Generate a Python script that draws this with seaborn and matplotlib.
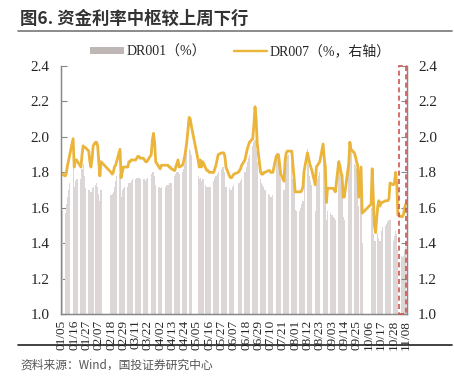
import pandas as pd
import matplotlib
matplotlib.use("Agg")
import matplotlib.pyplot as plt
import seaborn as sns
from matplotlib.lines import Line2D
from matplotlib.patches import Patch, Rectangle

# ------------------------
# Config
# ------------------------
START = "2024-01-05"
END = "2024-11-08"
# weekday holidays (interbank closed) and weekend make-up trading days
HOLIDAYS = ["2024-02-12", "2024-02-13", "2024-02-14", "2024-02-15", "2024-02-16",
            "2024-04-04", "2024-04-05", "2024-05-01", "2024-05-02", "2024-05-03",
            "2024-06-10", "2024-09-16", "2024-09-17",
            "2024-10-01", "2024-10-02", "2024-10-03", "2024-10-04", "2024-10-07"]
MAKEUP_DAYS = ["2024-02-04", "2024-02-18", "2024-04-07", "2024-04-28",
               "2024-05-11", "2024-09-14", "2024-09-29", "2024-10-12"]

BAR_COLOR = "#ddd6d6"
LINE_COLOR = "#ebb43a"
BOX_COLOR = "#c9574f"
SERIF = ["Liberation Serif", "Noto Sans CJK SC"]
CJK = ["Noto Sans CJK SC", "DejaVu Sans"]

# ------------------------
# Data (one row per week, trading days only)
# ------------------------
dr001 = [
    1.58,
    1.57, 1.62, 1.66, 1.70, 1.74,
    1.83, 1.72, 1.75, 1.76, 1.76,
    1.76, 1.82, 1.85, 1.78, 1.71,
    1.70, 1.70, 1.69, 1.71, 1.72,
    1.73, 1.74, 1.72, 1.68, 1.64, 1.70,
    1.67, 1.68, 1.69, 1.72, 1.75, 1.78,
    1.79, 1.66, 1.70, 1.71, 1.72,
    1.72, 1.74, 1.74, 1.75, 1.76,
    1.76, 1.77, 1.77, 1.77, 1.76,
    1.76, 1.76, 1.75, 1.76, 1.77,
    1.79, 1.80, 1.80, 1.78, 1.73,
    1.72, 1.71, 1.72, 1.72,
    1.73, 1.73, 1.74, 1.74, 1.74,
    1.78, 1.79, 1.80, 1.80, 1.79,
    1.80, 1.82, 1.85, 1.88, 1.91, 1.93,
    1.92, 1.90,
    1.78, 1.76, 1.77, 1.75, 1.76, 1.76,
    1.73, 1.72, 1.72, 1.72, 1.72,
    1.75, 1.77, 1.78, 1.79, 1.80,
    1.82, 1.83, 1.83, 1.80, 1.72,
    1.71, 1.70, 1.70, 1.72, 1.73,
    1.74, 1.74, 1.75, 1.76,
    1.80, 1.83, 1.86, 1.88, 1.90,
    1.95, 1.97, 1.98, 1.92, 1.86,
    1.76, 1.74, 1.73, 1.72, 1.70,
    1.68, 1.67, 1.66, 1.66, 1.67,
    1.90, 1.91, 1.88, 1.82, 1.77,
    1.70, 1.86, 1.88, 1.89, 1.90,
    1.86, 1.76, 1.70, 1.59, 1.58,
    1.58, 1.60, 1.62, 1.64, 1.84,
    1.93, 1.84, 1.78, 1.75, 1.73,
    1.58, 1.73, 1.76, 1.78, 1.80,
    1.92, 1.80, 1.72, 1.53, 1.58,
    1.57, 1.56, 1.55, 1.54, 1.53,
    1.84, 1.87, 1.80, 1.70, 1.55, 1.53,
    1.93, 1.95, 1.93,
    1.85, 1.84, 1.82, 1.80, 1.61, 1.80,
    1.40,
    1.60, 1.66, 1.45, 1.41, 1.41,
    1.46, 1.43, 1.41, 1.47, 1.49,
    1.50, 1.51, 1.52, 1.53, 1.53,
    1.41, 1.44, 1.47, 1.45, 1.36,
    1.33, 1.32, 1.33, 1.36, 1.38,
]
dr007 = [
    1.79,
    1.78, 1.80, 1.84, 1.87, 1.90,
    1.99, 1.83, 1.87, 1.87, 1.86,
    1.83, 1.90, 1.95, 1.94, 1.94,
    1.92, 1.86, 1.83, 1.88, 1.95,
    1.97, 1.97, 1.95, 1.86, 1.78, 1.86,
    1.80, 1.79, 1.80, 1.83, 1.84, 1.86,
    1.93, 1.77, 1.80, 1.83, 1.83,
    1.83, 1.86, 1.86, 1.87, 1.87,
    1.87, 1.88, 1.89, 1.89, 1.88,
    1.88, 1.87, 1.86, 1.86, 1.87,
    1.90, 1.98, 2.02, 1.97, 1.86,
    1.83, 1.82, 1.84, 1.84,
    1.84, 1.84, 1.83, 1.83, 1.82,
    1.81, 1.83, 1.85, 1.87, 1.83,
    1.84, 1.86, 1.89, 1.93, 1.98, 2.11,
    2.10, 2.06,
    1.87, 1.83, 1.87, 1.83, 1.86, 1.85,
    1.82, 1.81, 1.81, 1.80, 1.80,
    1.80, 1.82, 1.84, 1.87, 1.90,
    1.91, 1.91, 1.91, 1.89, 1.83,
    1.78, 1.77, 1.77, 1.78, 1.79,
    1.80, 1.81, 1.82, 1.84,
    1.87, 1.90, 1.93, 1.95, 1.97,
    1.99, 2.07, 2.17, 2.10, 1.96,
    1.80, 1.79, 1.79, 1.80, 1.80,
    1.81, 1.81, 1.80, 1.80, 1.80,
    1.89, 1.90, 1.90, 1.85, 1.79,
    1.75, 1.87, 1.91, 1.92, 1.92,
    1.92, 1.84, 1.77, 1.69, 1.69,
    1.69, 1.69, 1.70, 1.72, 1.81,
    1.91, 1.88, 1.85, 1.83, 1.81,
    1.73, 1.83, 1.84, 1.85, 1.86,
    1.96, 1.88, 1.83, 1.63, 1.71,
    1.71, 1.71, 1.71, 1.70, 1.69,
    1.86, 1.84, 1.80, 1.78, 1.66, 1.66,
    1.85, 1.97, 1.93,
    1.91, 1.89, 1.86, 1.84, 1.66, 1.83,
    1.57,
    1.62, 1.82, 1.66, 1.50, 1.46,
    1.61, 1.64, 1.61, 1.63, 1.63,
    1.64, 1.64, 1.64, 1.65, 1.74,
    1.73, 1.74, 1.80, 1.74, 1.56,
    1.55, 1.55, 1.56, 1.60, 1.62,
]
y_ticks = [1.0, 1.2, 1.4, 1.6, 1.8, 2.0, 2.2, 2.4]

# ------------------------
# Build frame
# ------------------------
dates = pd.bdate_range(START, END, freq="C", holidays=HOLIDAYS)
dates = dates.union(pd.DatetimeIndex(MAKEUP_DAYS))
df = pd.DataFrame({"date": dates, "DR001": dr001, "DR007": dr007})
df["day"] = (df["date"] - df["date"].iloc[0]).dt.days

tick_dates = pd.date_range(START, END, freq="11D")
tick_days = (tick_dates - tick_dates[0]).days
tick_labels = tick_dates.strftime("%m/%d")

# ------------------------
# Plot
# ------------------------
sns.set_style("white")
plt.rcParams["font.family"] = SERIF

fig = plt.figure(figsize=(4.54, 3.84), dpi=100)
ax = fig.add_axes([0.134, 0.182, 0.762, 0.646])

sns.barplot(data=df, x="day", y="DR001", native_scale=True, width=1.0,
            color=BAR_COLOR, saturation=1, errorbar=None, linewidth=0, ax=ax)

ax2 = ax.twinx()
sns.lineplot(data=df, x="day", y="DR007", color=LINE_COLOR, linewidth=2.0,
             ax=ax2, legend=False)

for a in (ax, ax2):
    a.set_ylim(1.0, 2.4)
    a.set_yticks(y_ticks)
    a.set_yticklabels([f"{v:.1f}" for v in y_ticks], fontsize=11)
    a.set_ylabel("")
    a.set_xlabel("")
    a.tick_params(axis="y", direction="in", length=4, color="#888888", pad=8)
    for s in a.spines.values():
        s.set_color("#888888")
        s.set_linewidth(0.9)
    a.spines["top"].set_visible(False)

ax.set_xlim(-1, 309)
ax.set_xticks(tick_days)
ax.set_xticklabels(tick_labels, rotation=90, fontsize=9.5)
ax.tick_params(axis="x", direction="in", length=3, color="#888888", pad=4)
ax.tick_params(axis="y", left=True, right=False)
ax2.tick_params(axis="y", left=False, right=True)

# highlight the latest week
ax2.add_patch(Rectangle((302, 1.0), 6.6, 1.4, fill=False, edgecolor=BOX_COLOR,
                        linestyle=(0, (3, 2)), linewidth=1.2, clip_on=False, zorder=5))

# ------------------------
# Legend, title, source
# ------------------------
handles = [Patch(facecolor="#bfb6b6", edgecolor="none"),
           Line2D([0], [0], color=LINE_COLOR, linewidth=1.7)]
fig.legend(handles, ["DR001（%）", "DR007（%，右轴）"], loc="center",
           bbox_to_anchor=(0.53, 0.866), ncol=2, frameon=False,
           handlelength=2.4, handleheight=0.45, columnspacing=2.0,
           handletextpad=0.2, prop={"family": SERIF, "size": 10})

fig.text(0.045, 0.952, "图6. 资金利率中枢较上周下行", family=CJK,
         fontsize=12.5, fontweight="bold", color="#333333", va="center")
fig.add_artist(Line2D([0.04, 0.995], [0.918, 0.918], color="#777777", linewidth=1.2))
fig.add_artist(Line2D([0.04, 0.995], [0.102, 0.102], color="#222222", linewidth=1.2))
fig.text(0.045, 0.05, "资料来源：Wind，国投证券研究中心", family=CJK,
         fontsize=8.5, style="italic", color="#555555", va="center")

fig.savefig("out.png", dpi=100)
plt.close(fig)
